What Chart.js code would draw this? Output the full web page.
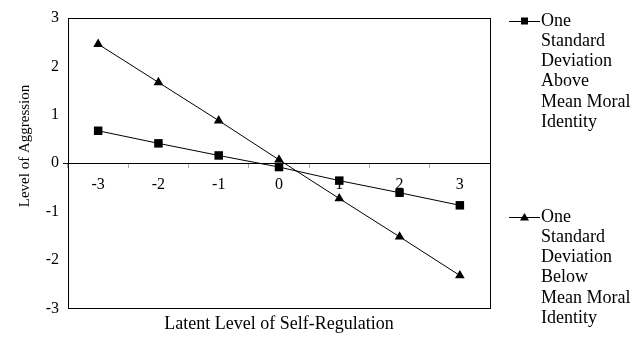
<!DOCTYPE html>
<html>
<head>
<meta charset="utf-8">
<script src="https://cdn.jsdelivr.net/npm/chart.js@4"></script>
<style>
  html, body { margin: 0; padding: 0; background: #fff; }
</style>
</head>
<body>
<canvas id="chart" width="644" height="337"></canvas>
<script>
// data
const selfRegulation = ['-3', '-2', '-1', '0', '1', '2', '3'];
const aboveMeanMoral = [0.67, 0.41, 0.16, -0.08, -0.36, -0.61, -0.87];
const belowMeanMoral = [2.46, 1.67, 0.88, 0.07, -0.73, -1.52, -2.32];
const yTicks = [-3, -2, -1, 0, 1, 2, 3];
const aboveLabel = ['One', 'Standard', 'Deviation', 'Above', 'Mean Moral', 'Identity'];
const belowLabel = ['One', 'Standard', 'Deviation', 'Below', 'Mean Moral', 'Identity'];
const yTitle = 'Level of Aggression';
const xTitle = 'Latent Level of Self-Regulation';

const FONT = "'Liberation Serif', 'Times New Roman', serif";

// frame round the plot, legend on the right, rotated y title
const framePlugin = {
	id: 'framePlugin',
	beforeDatasetsDraw(chart) {
		const { ctx, chartArea: a } = chart;
		ctx.save();
		ctx.strokeStyle = '#000';
		ctx.lineWidth = 1;
		ctx.strokeRect(Math.round(a.left) + 0.5, Math.round(a.top) + 0.5,
			Math.round(a.right - a.left), Math.round(a.bottom - a.top));
		ctx.restore();
	},
	afterDraw(chart) {
		const { ctx } = chart;
		ctx.save();
		ctx.fillStyle = '#000';
		ctx.strokeStyle = '#000';

		// y title
		ctx.font = `15px ${FONT}`;
		ctx.textAlign = 'center';
		ctx.textBaseline = 'middle';
		ctx.translate(25, 146);
		ctx.rotate(-Math.PI / 2);
		ctx.fillText(yTitle, 0, 0);
		ctx.setTransform(1, 0, 0, 1, 0, 0);

		// legend
		const items = [
			{ lines: aboveLabel, ds: chart.data.datasets[0], top: 21 },
			{ lines: belowLabel, ds: chart.data.datasets[1], top: 217 }
		];
		ctx.font = `18px ${FONT}`;
		ctx.textAlign = 'left';
		items.forEach(it => {
			const y = it.top;
			ctx.lineWidth = 1;
			ctx.beginPath();
			ctx.moveTo(509, y + 0.5);
			ctx.lineTo(540, y + 0.5);
			ctx.stroke();
			if (it.ds.pointStyle === 'rect') {
				ctx.fillRect(521, y - 3.5, 7, 7);
			} else {
				ctx.beginPath();
				ctx.moveTo(524.5, y - 4);
				ctx.lineTo(529, y + 3.5);
				ctx.lineTo(520, y + 3.5);
				ctx.closePath();
				ctx.fill();
			}
			it.lines.forEach((t, i) => ctx.fillText(t, 541, y + i * 20.2));
		});
		ctx.restore();
	}
};

const ctx = document.getElementById('chart').getContext('2d');
const chart = new Chart(ctx, {
	type: 'line',
	data: {
		labels: selfRegulation,
		datasets: [{
			label: aboveLabel.join(' '),
			data: aboveMeanMoral,
			borderColor: '#000',
			backgroundColor: '#000',
			borderWidth: 1,
			pointStyle: 'rect',
			pointRadius: 6,
			pointBorderWidth: 0,
			tension: 0,
			clip: false
		}, {
			label: belowLabel.join(' '),
			data: belowMeanMoral,
			borderColor: '#000',
			backgroundColor: '#000',
			borderWidth: 1,
			pointStyle: 'triangle',
			pointRadius: 5.6,
			pointBorderWidth: 0,
			tension: 0,
			clip: false
		}]
	},
	options: {
		responsive: false,
		animation: false,
		layout: { padding: { left: 0, right: 154, top: 18, bottom: 2 } },
		plugins: {
			legend: { display: false },
			tooltip: { enabled: false },
			title: {
				display: true,
				position: 'bottom',
				fullSize: false,
				text: xTitle,
				color: '#000',
				font: { family: FONT, size: 18, weight: 'normal' },
				padding: { top: 5, bottom: 0 }
			}
		},
		scales: {
			x: {
				type: 'category',
				position: { y: 0 },
				offset: true,
				ticks: { color: '#000', font: { family: FONT, size: 16 }, padding: 8 },
				grid: { drawOnChartArea: false, offset: true, tickLength: 4, tickColor: '#aaa' },
				border: { color: '#000', width: 1 }
			},
			y: {
				min: -3,
				max: 3,
				afterFit(scale) { scale.width = 68; },
				afterBuildTicks(scale) { scale.ticks = yTicks.map(v => ({ value: v })); },
				ticks: { color: '#000', font: { family: FONT, size: 16 }, padding: 4 },
				grid: {
					drawOnChartArea: false,
					tickLength: 5,
					tickColor: c => (c.tick && c.tick.value === 0 ? '#000' : 'rgba(0,0,0,0)')
				},
				border: { color: '#000', width: 1 }
			}
		}
	},
	plugins: [framePlugin]
});
</script>
</body>
</html>
